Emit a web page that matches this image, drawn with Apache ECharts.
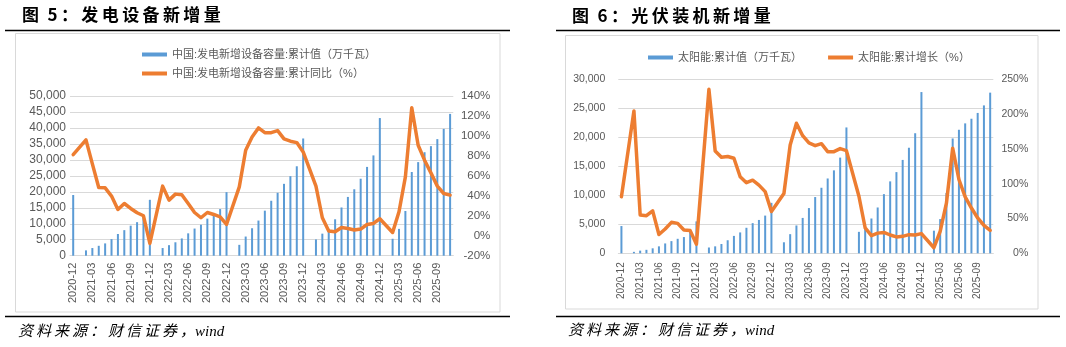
<!DOCTYPE html>
<html>
<head>
<meta charset="utf-8">
<script src="https://cdn.jsdelivr.net/npm/echarts@6/dist/echarts.min.js"></script>
<style>
html,body{margin:0;padding:0;background:#fff;}
#c{width:1066px;height:347px;}
</style>
</head>
<body>
<div id="c"></div>
<script>
const categories = [
 '2020-12','2021-01','2021-02','2021-03','2021-04','2021-05','2021-06','2021-07','2021-08','2021-09','2021-10','2021-11','2021-12',
 '2022-01','2022-02','2022-03','2022-04','2022-05','2022-06','2022-07','2022-08','2022-09','2022-10','2022-11','2022-12',
 '2023-01','2023-02','2023-03','2023-04','2023-05','2023-06','2023-07','2023-08','2023-09','2023-10','2023-11','2023-12',
 '2024-01','2024-02','2024-03','2024-04','2024-05','2024-06','2024-07','2024-08','2024-09','2024-10','2024-11','2024-12',
 '2025-01','2025-02','2025-03','2025-04','2025-05','2025-06','2025-07','2025-08','2025-09','2025-10','2025-11'
];
// 图5 发电设备新增量
const powerCapacity = [19000, null, 1670, 2400, 3100, 3850, 5200, 6800, 8000, 9400, 10500, 12000, 17500,
 null, 2400, 3300, 4200, 5400, 7000, 8500, 9700, 11600, 12600, 14600, 19900,
 null, 3400, 6000, 8600, 11000, 14100, 17200, 19700, 22500, 24900, 28000, 36700,
 null, 5100, 6900, 8400, 11400, 15100, 18400, 20800, 24100, 27800, 31400, 43100,
 null, 5300, 8400, 14000, 26200, 29300, 32400, 34300, 36500, 39700, 44400];
const powerYoY = [81.3, null, 96, 72, 48.3, 48, 39.7, 26.3, 32.3, 27.3, 23, 20, -7.7,
 null, 49.7, 35.7, 41.7, 41, 32.3, 23.3, 18, 23.3, 21.3, 19, 11.3,
 null, 49, 85.7, 99, 108, 103.3, 103.3, 105.3, 97, 94.7, 93.3, 84,
 null, 49.7, 18, 4.7, 4, 8.3, 7.3, 5.7, 6.7, 11.3, 12.3, 17,
 null, 3.3, 24, 59, 128.3, 90.7, 75.7, 63, 49.7, 42.3, 40.7];
// 图6 光伏装机新增量
const solarCapacity = [4700, null, 250, 460, 600, 860, 1200, 1700, 2100, 2500, 2800, 3700, 5500,
 null, 1000, 1200, 1600, 2250, 3000, 3600, 4400, 5200, 5750, 6500, 8700,
 null, 1900, 3300, 4800, 6100, 7800, 9700, 11300, 12900, 14300, 16500, 21700,
 null, 3700, 4600, 6000, 7900, 10200, 12400, 14000, 16100, 18200, 20700, 27800,
 null, 3900, 5900, 10400, 19800, 21300, 22400, 23200, 24200, 25500, 27700];
const solarYoY = [81.4, null, 204.5, 55, 54, 61, 27, 35, 44.5, 43, 33.5, 32.6, 13,
 null, 235.6, 147, 138, 139, 136.5, 110, 101.5, 105, 98, 88.6, 60,
 null, 86, 155.7, 186.8, 169, 158.5, 154.7, 157.5, 146, 146, 150.4, 147.5,
 null, 82, 36.4, 25.4, 29, 30, 26.3, 23.5, 24.4, 26.8, 26.3, 28.3,
 null, 8, 31.6, 72, 151, 106, 81, 65, 50.8, 40, 33];

const leftTicks = {min: 0, max: 50000, interval: 5000};
const leftPct = {min: -20, max: 140, interval: 20};
const rightTicks = {min: 0, max: 30000, interval: 5000};
const rightPct = {min: 0, max: 250, interval: 50};

const titles = [['图', '5：发电设备新增量'], ['图', '6：光伏装机新增量']];
const sourceCjk = '资料来源：财信证券，';
const sourceLatin = 'wind';
const names = [
 '中国:发电新增设备容量:累计值（万千瓦）',
 '中国:发电新增设备容量:累计同比（%）',
 '太阳能:累计值（万千瓦）',
 '太阳能:累计增长（%）'
];

const BLUE = '#5B9BD5', ORANGE = '#ED7D31', GRID = '#D9D9D9', TXT = '#595959';
const FONT = "'Liberation Sans','Noto Sans CJK SC',sans-serif";
const spaced = s => s.split('').join('\u2009');
const fmtNum = v => Number(v).toLocaleString('en-US');
const titleText = t => t[0] + '\u2002' + spaced(t[1]);

const chart = echarts.init(document.getElementById('c'), null, {renderer: 'canvas'});

function srcText(x, y) {
  return {
    type: 'text', left: x, top: y,
    style: {
      text: spaced(sourceCjk) + sourceLatin,
      font: "italic 15px 'Liberation Serif','Noto Sans CJK SC',serif",
      fill: '#000'
    }
  };
}

const titleStyle = {fontFamily: "'Noto Sans CJK SC',sans-serif", fontWeight: 'bold', fontSize: 17, color: '#000'};

const option = {
  animation: false,
  backgroundColor: '#fff',
  title: [
    {text: titleText(titles[0]), left: 17, top: 1, textStyle: titleStyle},
    {text: titleText(titles[1]), left: 567, top: 2, textStyle: titleStyle}
  ],
  legend: [
    {orient: 'vertical', left: 137, top: 44, itemWidth: 25, itemHeight: 4, itemGap: 8,
     data: [{name: names[0], icon: 'rect'}, {name: names[1], icon: 'rect'}],
     textStyle: {fontFamily: FONT, fontSize: 11, color: TXT}},
    {orient: 'horizontal', left: 643, top: 47, itemWidth: 25, itemHeight: 4, itemGap: 26,
     data: [{name: names[2], icon: 'rect'}, {name: names[3], icon: 'rect'}],
     textStyle: {fontFamily: FONT, fontSize: 11, color: TXT}}
  ],
  grid: [
    {left: 70, top: 96, width: 383.3, height: 159.7},
    {left: 618.3, top: 79.3, width: 375, height: 174}
  ],
  xAxis: [
    {type: 'category', gridIndex: 0, data: categories, boundaryGap: true,
     axisLine: {lineStyle: {color: GRID}}, axisTick: {show: false},
     axisLabel: {rotate: 90, interval: 2, fontSize: 11, color: TXT, fontFamily: FONT, margin: 7}},
    {type: 'category', gridIndex: 1, data: categories, boundaryGap: true,
     axisLine: {lineStyle: {color: GRID}}, axisTick: {show: false},
     axisLabel: {rotate: 90, interval: 2, fontSize: 10, color: TXT, fontFamily: FONT, margin: 9}}
  ],
  yAxis: [
    {type: 'value', gridIndex: 0, position: 'left', ...leftTicks,
     axisLine: {show: false}, axisTick: {show: false},
     splitLine: {lineStyle: {color: GRID, width: 1}},
     axisLabel: {formatter: fmtNum, fontSize: 12, color: TXT, fontFamily: FONT, margin: 4}},
    {type: 'value', gridIndex: 0, position: 'right', ...leftPct,
     axisLine: {show: false}, axisTick: {show: false}, splitLine: {show: false},
     axisLabel: {formatter: '{value}%', fontSize: 11.5, color: TXT, fontFamily: FONT, align: 'right', margin: 37}},
    {type: 'value', gridIndex: 1, position: 'left', ...rightTicks,
     axisLine: {show: false}, axisTick: {show: false},
     splitLine: {lineStyle: {color: GRID, width: 1}},
     axisLabel: {formatter: fmtNum, fontSize: 10.5, color: TXT, fontFamily: FONT, margin: 13}},
    {type: 'value', gridIndex: 1, position: 'right', ...rightPct,
     axisLine: {show: false}, axisTick: {show: false}, splitLine: {show: false},
     axisLabel: {formatter: '{value}%', fontSize: 10.5, color: TXT, fontFamily: FONT, align: 'right', margin: 35}}
  ],
  series: [
    {name: names[0], type: 'bar', xAxisIndex: 0, yAxisIndex: 0, data: powerCapacity,
     barWidth: 2, itemStyle: {color: BLUE}, z: 2},
    {name: names[1], type: 'line', xAxisIndex: 0, yAxisIndex: 1, data: powerYoY,
     connectNulls: true, symbol: 'none', showSymbol: false,
     lineStyle: {color: ORANGE, width: 3.5, join: 'round', cap: 'round'}, itemStyle: {color: ORANGE}, z: 3},
    {name: names[2], type: 'bar', xAxisIndex: 1, yAxisIndex: 2, data: solarCapacity,
     barWidth: 2, itemStyle: {color: BLUE}, z: 2},
    {name: names[3], type: 'line', xAxisIndex: 1, yAxisIndex: 3, data: solarYoY,
     connectNulls: true, symbol: 'none', showSymbol: false,
     lineStyle: {color: ORANGE, width: 3.5, join: 'round', cap: 'round'}, itemStyle: {color: ORANGE}, z: 3}
  ],
  graphic: [
    {type: 'rect', shape: {x: 15.5, y: 33.5, width: 484.5, height: 278.5}, style: {fill: 'none', stroke: GRID, lineWidth: 1}, z: -1, silent: true},
    {type: 'rect', shape: {x: 565.5, y: 35.5, width: 472.5, height: 273.5}, style: {fill: 'none', stroke: GRID, lineWidth: 1}, z: -1, silent: true},
    {type: 'line', shape: {x1: 5, y1: 30.5, x2: 510, y2: 30.5}, style: {stroke: '#000', lineWidth: 1.5}, silent: true},
    {type: 'line', shape: {x1: 5, y1: 316.5, x2: 510, y2: 316.5}, style: {stroke: '#000', lineWidth: 1.5}, silent: true},
    {type: 'line', shape: {x1: 556, y1: 30.5, x2: 1060, y2: 30.5}, style: {stroke: '#000', lineWidth: 1.5}, silent: true},
    {type: 'line', shape: {x1: 556, y1: 316.5, x2: 1060, y2: 316.5}, style: {stroke: '#000', lineWidth: 1.5}, silent: true},
    srcText(18, 325),
    srcText(568, 324)
  ]
};
chart.setOption(option);
</script>
</body>
</html>
